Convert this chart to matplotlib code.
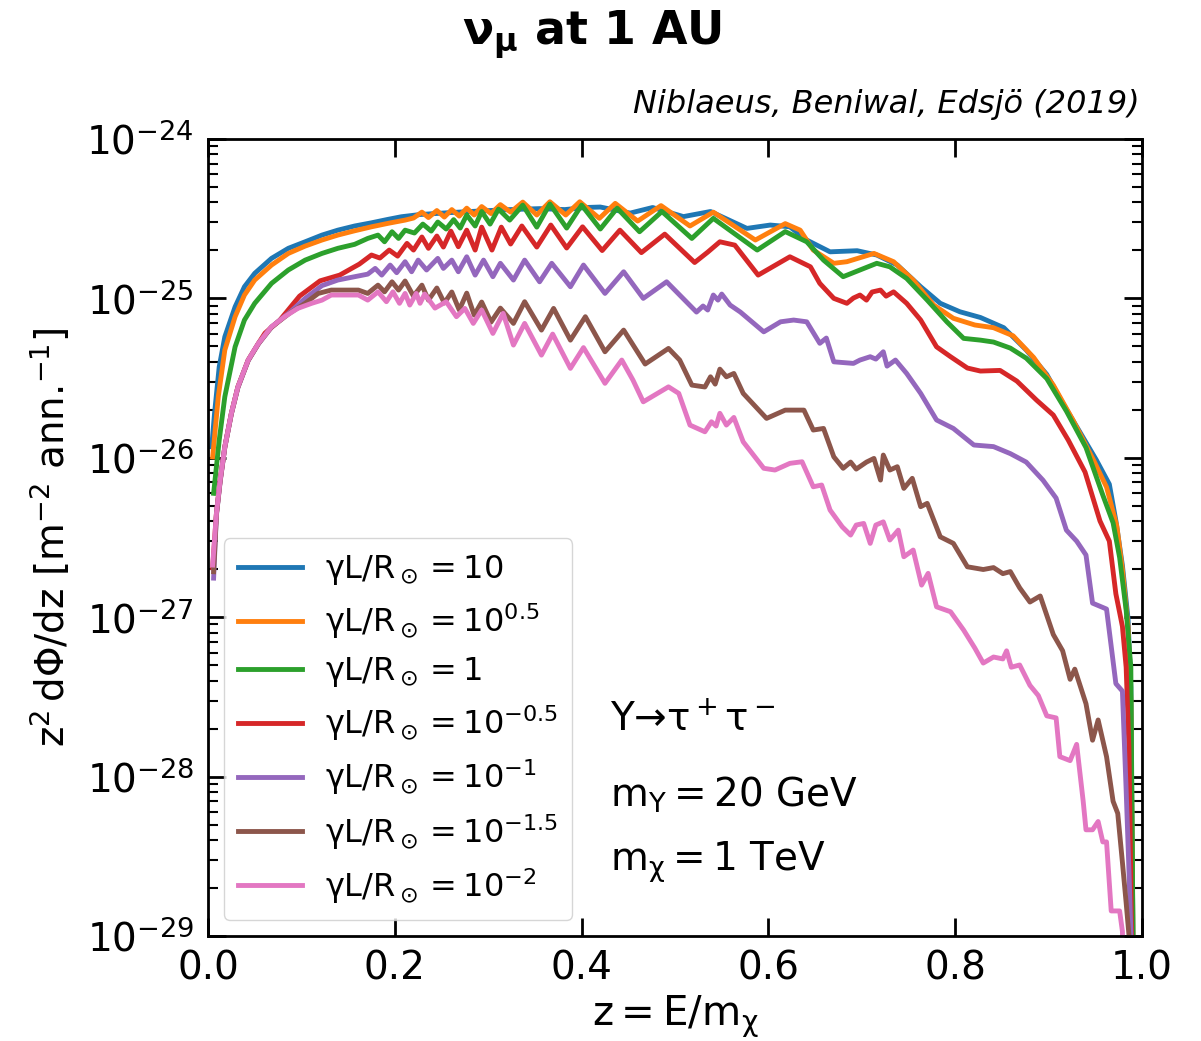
import numpy as np
import matplotlib
matplotlib.use("Agg")
import matplotlib.pyplot as plt

plt.rcParams["mathtext.default"] = "regular"
plt.rcParams["font.family"] = "DejaVu Sans"

# ----------------------------------------------------------------------
# Data: z = E/m_chi and log10(z^2 dPhi/dz)
# ----------------------------------------------------------------------
z_p10 = [0.004, 0.007, 0.012, 0.018, 0.029, 0.039, 0.050, 0.068, 0.086, 0.104,
         0.122, 0.139, 0.157, 0.175, 0.193, 0.207, 0.227, 0.259, 0.291, 0.323,
         0.355, 0.382, 0.404, 0.420, 0.452, 0.476, 0.509, 0.538, 0.577, 0.602,
         0.623, 0.641, 0.666, 0.695, 0.716, 0.738, 0.763, 0.784, 0.805, 0.827,
         0.852, 0.876, 0.898, 0.915, 0.933, 0.951, 0.965, 0.972, 0.979, 0.985,
         0.988, 0.991]
lg_p10 = [-25.931, -25.720, -25.429, -25.241, -25.053, -24.927, -24.843, -24.749, -24.686, -24.645,
          -24.603, -24.572, -24.546, -24.526, -24.504, -24.488, -24.474, -24.462, -24.452, -24.443,
          -24.437, -24.443, -24.430, -24.427, -24.465, -24.430, -24.487, -24.455, -24.561, -24.540,
          -24.551, -24.634, -24.708, -24.701, -24.728, -24.791, -24.927, -25.031, -25.084, -25.120,
          -25.184, -25.324, -25.477, -25.656, -25.834, -26.013, -26.166, -26.395, -26.676, -27.008,
          -27.441, -29.5]

z_p05 = [0.005, 0.011, 0.018, 0.029, 0.039, 0.050, 0.068, 0.086, 0.104, 0.122,
         0.139, 0.157, 0.175, 0.193, 0.211, 0.220, 0.229, 0.236, 0.245, 0.253,
         0.261, 0.269, 0.277, 0.285, 0.293, 0.303, 0.313, 0.324, 0.337, 0.352,
         0.366, 0.383, 0.398, 0.419, 0.436, 0.460, 0.485, 0.516, 0.541, 0.586,
         0.618, 0.634, 0.648, 0.670, 0.684, 0.713, 0.734, 0.755, 0.777, 0.798,
         0.821, 0.841, 0.862, 0.884, 0.905, 0.926, 0.948, 0.962, 0.973, 0.979,
         0.985, 0.988, 0.991]
lg_p05 = [-25.994, -25.617, -25.324, -25.115, -24.979, -24.885, -24.791, -24.718, -24.672, -24.634,
          -24.603, -24.576, -24.551, -24.529, -24.509, -24.496, -24.459, -24.493, -24.449, -24.490,
          -24.443, -24.484, -24.434, -24.477, -24.424, -24.468, -24.412, -24.459, -24.396, -24.477,
          -24.394, -24.477, -24.394, -24.498, -24.404, -24.515, -24.418, -24.546, -24.459, -24.634,
          -24.531, -24.572, -24.697, -24.780, -24.770, -24.718, -24.770, -24.885, -25.042, -25.125,
          -25.167, -25.184, -25.235, -25.371, -25.544, -25.763, -26.014, -26.184, -26.428, -26.701,
          -27.058, -27.52, -29.5]

z_p00 = [0.006, 0.012, 0.018, 0.029, 0.039, 0.050, 0.068, 0.086, 0.104, 0.122,
         0.139, 0.157, 0.171, 0.182, 0.189, 0.197, 0.204, 0.211, 0.221, 0.230,
         0.239, 0.246, 0.255, 0.263, 0.270, 0.277, 0.286, 0.293, 0.302, 0.311,
         0.323, 0.337, 0.352, 0.366, 0.384, 0.400, 0.420, 0.438, 0.462, 0.486,
         0.518, 0.541, 0.588, 0.618, 0.641, 0.659, 0.680, 0.698, 0.716, 0.730,
         0.748, 0.770, 0.791, 0.809, 0.827, 0.841, 0.859, 0.876, 0.898, 0.919,
         0.940, 0.958, 0.969, 0.976, 0.983, 0.988, 0.991]
lg_p00 = [-26.223, -25.889, -25.617, -25.304, -25.136, -25.031, -24.906, -24.822, -24.760, -24.718,
          -24.686, -24.661, -24.624, -24.603, -24.645, -24.582, -24.624, -24.572, -24.590, -24.534,
          -24.578, -24.521, -24.565, -24.506, -24.559, -24.477, -24.546, -24.455, -24.534, -24.440,
          -24.509, -24.415, -24.553, -24.408, -24.559, -24.415, -24.565, -24.434, -24.582, -24.455,
          -24.624, -24.498, -24.697, -24.581, -24.645, -24.760, -24.864, -24.822, -24.780, -24.802,
          -24.875, -25.011, -25.147, -25.251, -25.262, -25.274, -25.312, -25.375, -25.503, -25.707,
          -25.936, -26.234, -26.408, -26.625, -26.956, -27.313, -29.5]

z_m05 = [0.005, 0.009, 0.013, 0.018, 0.025, 0.032, 0.043, 0.054, 0.061, 0.077,
         0.098, 0.120, 0.141, 0.162, 0.175, 0.184, 0.194, 0.203, 0.213, 0.220,
         0.229, 0.236, 0.245, 0.252, 0.260, 0.268, 0.277, 0.286, 0.293, 0.304,
         0.314, 0.324, 0.336, 0.352, 0.367, 0.384, 0.401, 0.422, 0.441, 0.464,
         0.489, 0.521, 0.535, 0.548, 0.564, 0.589, 0.623, 0.645, 0.655, 0.670,
         0.684, 0.691, 0.698, 0.705, 0.711, 0.720, 0.726, 0.734, 0.748, 0.763,
         0.780, 0.795, 0.813, 0.827, 0.848, 0.866, 0.887, 0.905, 0.921, 0.939,
         0.955, 0.965, 0.972, 0.979, 0.983, 0.986, 0.990]
lg_m05 = [-26.69, -26.349, -26.140, -25.931, -25.721, -25.555, -25.387, -25.282, -25.218, -25.136,
          -24.986, -24.89, -24.854, -24.785, -24.728, -24.747, -24.697, -24.735, -24.655, -24.697,
          -24.615, -24.686, -24.609, -24.678, -24.578, -24.676, -24.572, -24.697, -24.553, -24.697,
          -24.553, -24.659, -24.546, -24.678, -24.540, -24.684, -24.551, -24.700, -24.572, -24.713,
          -24.597, -24.775, -24.710, -24.645, -24.666, -24.854, -24.739, -24.802, -24.906, -25.000,
          -25.031, -24.998, -24.979, -25.011, -24.960, -24.948, -24.986, -24.959, -25.031, -25.136,
          -25.304, -25.366, -25.437, -25.456, -25.452, -25.519, -25.638, -25.732, -25.889, -26.090,
          -26.397, -26.523, -26.854, -27.058, -27.314, -27.824, -29.5]

z_m10 = [0.006, 0.009, 0.013, 0.018, 0.025, 0.032, 0.043, 0.054, 0.068, 0.088,
         0.104, 0.122, 0.139, 0.157, 0.171, 0.179, 0.186, 0.195, 0.202, 0.211,
         0.218, 0.225, 0.234, 0.246, 0.252, 0.261, 0.268, 0.277, 0.286, 0.295,
         0.305, 0.313, 0.327, 0.339, 0.355, 0.368, 0.388, 0.402, 0.425, 0.445,
         0.466, 0.491, 0.523, 0.530, 0.535, 0.541, 0.546, 0.550, 0.559, 0.570,
         0.595, 0.613, 0.627, 0.641, 0.655, 0.662, 0.670, 0.691, 0.698, 0.709,
         0.715, 0.723, 0.727, 0.736, 0.748, 0.763, 0.780, 0.798, 0.820, 0.841,
         0.859, 0.876, 0.894, 0.908, 0.919, 0.930, 0.940, 0.947, 0.962, 0.972,
         0.979, 0.983, 0.986, 0.988, 0.990]
lg_m10 = [-26.755, -26.36, -26.15, -25.935, -25.725, -25.56, -25.39, -25.285, -25.18, -25.085,
          -25.000, -24.92, -24.885, -24.864, -24.848, -24.812, -24.854, -24.791, -24.839, -24.770,
          -24.833, -24.760, -24.822, -24.749, -24.812, -24.760, -24.833, -24.739, -24.854, -24.760,
          -24.864, -24.780, -24.885, -24.760, -24.896, -24.780, -24.927, -24.791, -24.969, -24.833,
          -25.000, -24.896, -25.086, -25.048, -25.073, -24.979, -25.011, -24.973, -25.042, -25.086,
          -25.210, -25.147, -25.136, -25.147, -25.282, -25.249, -25.398, -25.408, -25.387, -25.366,
          -25.381, -25.335, -25.425, -25.387, -25.471, -25.596, -25.763, -25.816, -25.920, -25.930,
          -25.974, -26.027, -26.141, -26.253, -26.454, -26.523, -26.610, -26.912, -26.949, -27.417,
          -27.464, -28.085, -28.588, -28.971, -29.5]

z_m15 = [0.006, 0.009, 0.013, 0.018, 0.025, 0.032, 0.043, 0.054, 0.068, 0.088,
         0.104, 0.118, 0.132, 0.161, 0.171, 0.182, 0.189, 0.197, 0.204, 0.211,
         0.220, 0.229, 0.236, 0.245, 0.253, 0.261, 0.269, 0.277, 0.285, 0.293,
         0.303, 0.313, 0.327, 0.339, 0.357, 0.370, 0.388, 0.404, 0.425, 0.445,
         0.468, 0.493, 0.505, 0.518, 0.532, 0.538, 0.543, 0.548, 0.555, 0.563,
         0.573, 0.598, 0.618, 0.638, 0.648, 0.659, 0.670, 0.680, 0.688, 0.694,
         0.705, 0.713, 0.720, 0.723, 0.730, 0.738, 0.745, 0.754, 0.763, 0.770,
         0.784, 0.798, 0.813, 0.830, 0.841, 0.851, 0.859, 0.869, 0.880, 0.891,
         0.905, 0.915, 0.923, 0.928, 0.940, 0.947, 0.953, 0.962, 0.969, 0.974,
         0.979, 0.983, 0.986, 0.989]
lg_m15 = [-26.715, -26.355, -26.145, -25.933, -25.723, -25.557, -25.389, -25.284, -25.18, -25.09,
          -25.031, -24.969, -24.948, -24.948, -24.969, -24.917, -24.959, -24.896, -24.948, -24.891,
          -24.986, -24.917, -25.011, -24.935, -25.029, -24.960, -25.073, -24.967, -25.105, -25.023,
          -25.149, -25.061, -25.157, -25.021, -25.199, -25.063, -25.262, -25.115, -25.335, -25.199,
          -25.412, -25.314, -25.387, -25.544, -25.556, -25.492, -25.538, -25.444, -25.492, -25.471,
          -25.596, -25.753, -25.701, -25.701, -25.826, -25.816, -25.994, -26.066, -26.027, -26.071,
          -26.027, -26.004, -26.140, -25.983, -26.077, -26.056, -26.192, -26.129, -26.307, -26.286,
          -26.496, -26.537, -26.684, -26.701, -26.689, -26.727, -26.714, -26.816, -26.905, -26.867,
          -27.109, -27.211, -27.390, -27.326, -27.543, -27.772, -27.645, -27.875, -28.155, -28.231,
          -28.538, -28.792, -28.994, -29.6]

z_m20 = [0.005, 0.009, 0.013, 0.018, 0.025, 0.032, 0.043, 0.054, 0.068, 0.082,
         0.096, 0.111, 0.122, 0.132, 0.161, 0.171, 0.182, 0.191, 0.198, 0.205,
         0.211, 0.216, 0.223, 0.227, 0.232, 0.243, 0.255, 0.266, 0.275, 0.284,
         0.293, 0.305, 0.316, 0.327, 0.339, 0.357, 0.369, 0.388, 0.402, 0.425,
         0.443, 0.455, 0.466, 0.493, 0.504, 0.516, 0.532, 0.539, 0.544, 0.548,
         0.555, 0.563, 0.573, 0.595, 0.607, 0.623, 0.636, 0.648, 0.657, 0.666,
         0.679, 0.688, 0.694, 0.702, 0.709, 0.715, 0.723, 0.730, 0.739, 0.745,
         0.755, 0.764, 0.771, 0.780, 0.795, 0.809, 0.821, 0.830, 0.841, 0.851,
         0.855, 0.860, 0.869, 0.880, 0.889, 0.898, 0.908, 0.912, 0.923, 0.930,
         0.937, 0.940, 0.947, 0.953, 0.958, 0.962, 0.967, 0.976, 0.979, 0.981]
lg_m20 = [-26.673, -26.349, -26.140, -25.931, -25.721, -25.555, -25.387, -25.282, -25.178, -25.115,
          -25.063, -25.031, -25.011, -24.979, -24.979, -25.011, -24.959, -25.021, -24.959, -25.031,
          -24.969, -25.042, -24.969, -25.031, -24.973, -25.061, -25.021, -25.115, -25.063, -25.157,
          -25.073, -25.220, -25.094, -25.293, -25.157, -25.356, -25.224, -25.439, -25.309, -25.533,
          -25.387, -25.513, -25.649, -25.555, -25.596, -25.795, -25.837, -25.774, -25.801, -25.721,
          -25.795, -25.747, -25.900, -26.066, -26.077, -26.035, -26.025, -26.182, -26.171, -26.328,
          -26.433, -26.485, -26.422, -26.412, -26.537, -26.422, -26.402, -26.516, -26.454, -26.621,
          -26.579, -26.799, -26.725, -26.935, -26.966, -27.081, -27.194, -27.288, -27.250, -27.262,
          -27.211, -27.314, -27.300, -27.428, -27.492, -27.619, -27.632, -27.875, -27.900, -27.798,
          -28.155, -28.334, -28.334, -28.282, -28.410, -28.410, -28.843, -28.843, -28.971, -29.5]

labels = [r"$\gamma L/R_\odot = 10$",
          r"$\gamma L/R_\odot = 10^{0.5}$",
          r"$\gamma L/R_\odot = 1$",
          r"$\gamma L/R_\odot = 10^{-0.5}$",
          r"$\gamma L/R_\odot = 10^{-1}$",
          r"$\gamma L/R_\odot = 10^{-1.5}$",
          r"$\gamma L/R_\odot = 10^{-2}$"]

series = [(z_p10, lg_p10), (z_p05, lg_p05), (z_p00, lg_p00), (z_m05, lg_m05),
          (z_m10, lg_m10), (z_m15, lg_m15), (z_m20, lg_m20)]

# ----------------------------------------------------------------------
fig = plt.figure(figsize=(12.01, 10.41), dpi=100)
ax = fig.add_axes([0.1732, 0.1009, 0.7777, 0.7656])

for i, ((zz, lg), lab) in enumerate(zip(series, labels)):
    ax.plot(zz, 10.0 ** np.array(lg), color=f"C{i}", lw=3.5, label=lab,
            solid_joinstyle="round")

ax.set_yscale("log")
ax.set_xlim(0, 1)
ax.set_ylim(1e-29, 1e-24)
ax.set_xticks([0.0, 0.2, 0.4, 0.6, 0.8, 1.0])

ax.tick_params(which="both", direction="in", top=True, right=True, labelsize=28, pad=10)
ax.tick_params(which="major", length=13, width=2)
ax.tick_params(which="minor", length=7, width=1.5)
for s in ax.spines.values():
    s.set_linewidth(2)

ax.set_xlabel(r"$z = E/m_\chi$", fontsize=29, labelpad=4)
ax.set_ylabel(r"$z^2\, d\Phi/dz$ [m$^{-2}$ ann.$^{-1}$]", fontsize=28, labelpad=10)

leg = ax.legend(loc="lower left", fontsize=23, handlelength=2.0, handletextpad=0.7,
                labelspacing=0.45, borderpad=0.45)

ax.text(0.430, 0.271, r"Υ→$\tau^+\tau^-$", transform=ax.transAxes,
        fontsize=28, va="center", ha="left")
ax.text(0.430, 0.177, r"$m_\Upsilon = 20$ GeV", transform=ax.transAxes,
        fontsize=28, va="center", ha="left")
ax.text(0.430, 0.093, r"$m_\chi = 1$ TeV", transform=ax.transAxes,
        fontsize=28, va="center", ha="left")

ax.text(0.998, 1.024, u"Niblaeus, Beniwal, Edsjö (2019)", transform=ax.transAxes,
        fontsize=23, style="italic", ha="right", va="bottom")

fig.suptitle(r"$\mathbf{\nu_\mu}$ at 1 AU", fontsize=33, fontweight="bold", x=0.493, y=0.992)

fig.savefig("out.png", dpi=100)
